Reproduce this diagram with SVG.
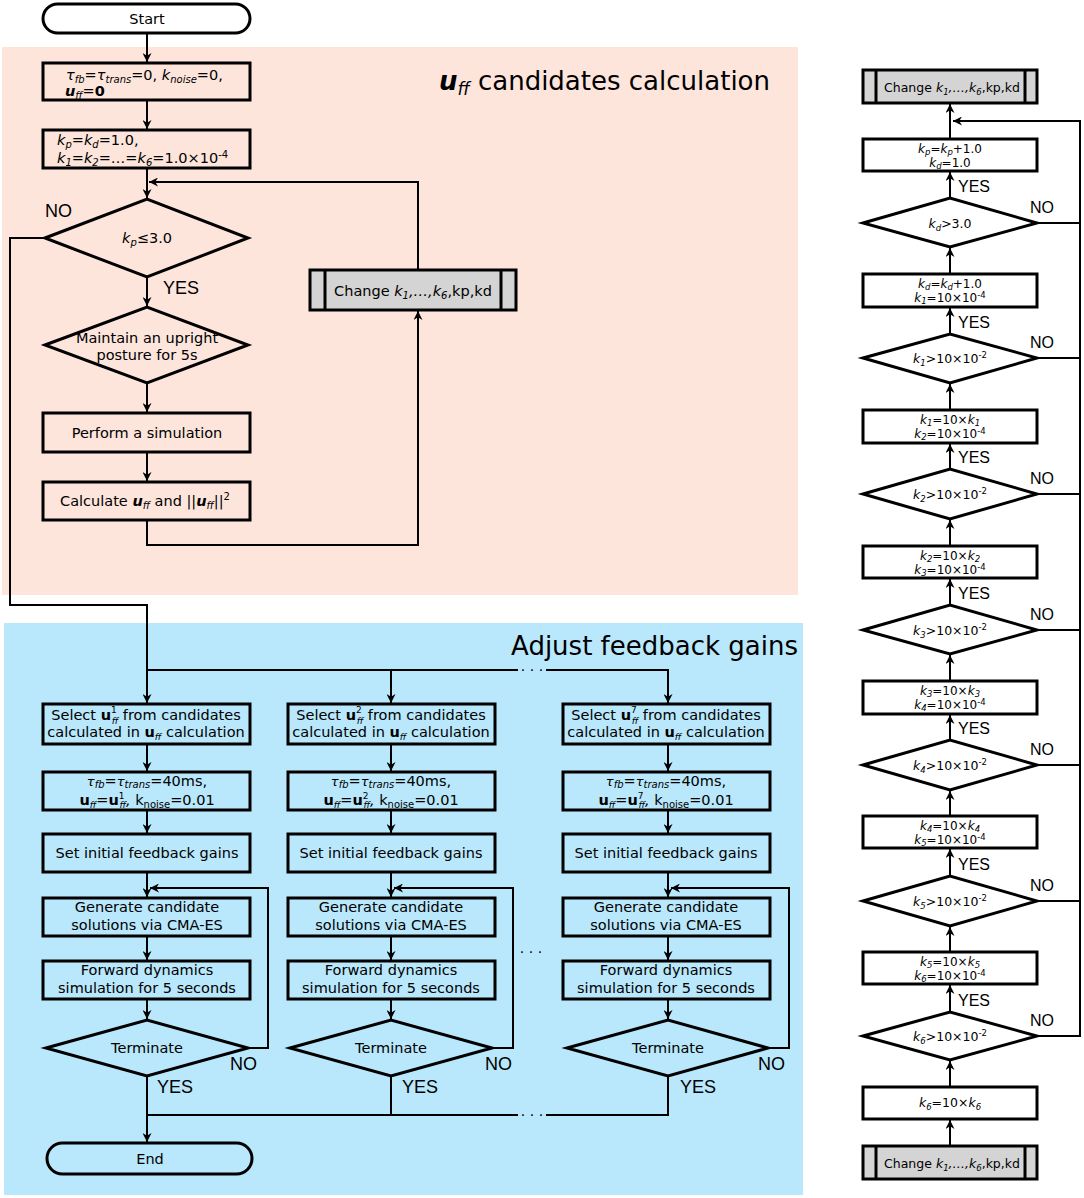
<svg xmlns="http://www.w3.org/2000/svg" width="1084" height="1198" viewBox="0 0 1084 1198">
<defs>
<marker id="ah" viewBox="0 0 10 10" refX="10" refY="5" markerWidth="9" markerHeight="9" markerUnits="userSpaceOnUse" orient="auto"><path d="M0,0 L10,5 L0,10 L3,5 z" fill="#000"/></marker>
<style>
.t{font-family:"DejaVu Sans",Verdana,sans-serif;font-size:14.5px;fill:#000}
.m{text-anchor:middle}
.i{font-style:italic}
.b{font-weight:bold}
.s{font-size:10px}
.ss{font-size:9px}
.r{font-family:"DejaVu Sans",Verdana,sans-serif;font-size:12px;text-anchor:middle;fill:#000}
.rc{font-family:"DejaVu Sans",Verdana,sans-serif;font-size:12.5px;text-anchor:middle;fill:#000}
.rs{font-size:8.5px}
.l{font-family:"Liberation Sans",Arial,sans-serif;font-size:18px;fill:#000}
.lr{font-family:"Liberation Sans",Arial,sans-serif;font-size:16px;fill:#000}
.ttl{font-family:"DejaVu Sans",Verdana,sans-serif;font-size:26px;fill:#000;text-anchor:end}
.box{fill:none;stroke:#000;stroke-width:3}
.gray{fill:#d4d4d4;stroke:#000;stroke-width:3}
.c{fill:none;stroke:#000;stroke-width:2}
.a{marker-end:url(#ah)}
.dots{font-family:"DejaVu Sans",sans-serif;font-size:14px;text-anchor:middle;fill:#000}
</style>
</defs>
<rect x="2" y="47" width="796" height="548" fill="#fde5dc"/>
<rect x="4" y="623" width="799" height="572" fill="#b9e7fb"/>
<text class="ttl" x="770" y="90"><tspan class="b i">u</tspan><tspan class="i" font-size="17" dy="5">ff</tspan><tspan dy="-5"> candidates calculation</tspan></text>
<text class="ttl" x="798" y="655" font-size="25">Adjust feedback gains</text>

<g id="connectors">
<path class="c a" d="M147,33 V62"/>
<path class="c a" d="M147,100 V129"/>
<path class="c a" d="M147,168 V198"/>
<path class="c a" d="M418,270 V182 H149"/>
<path class="c a" d="M147,277 V306"/>
<path class="c a" d="M147,383 V412"/>
<path class="c a" d="M147,452 V481"/>
<path class="c a" d="M147,520 V545 H418 V311"/>
<path class="c a" d="M45,238 H10 V605 H147 V703"/>
<path class="c" d="M147,670 H518"/>
<path class="c a" d="M546,670 H668 V703"/>
<path class="c a" d="M391,670 V703"/>
<text class="dots" x="532" y="675">· · ·</text>
<text class="dots" x="531" y="957">· · ·</text>
<text class="dots" x="532" y="1120">· · ·</text>
<path class="c a" d="M147,744 V771"/>
<path class="c a" d="M147,810 V833"/>
<path class="c a" d="M147,872 V897"/>
<path class="c a" d="M147,936 V960"/>
<path class="c a" d="M147,999 V1019"/>
<path class="c a" d="M248,1048 H268 V888 H150"/>
<path class="c a" d="M147,1076 V1142"/>
<path class="c" d="M147,1115 H518"/>
<path class="c a" d="M391,744 V771"/>
<path class="c a" d="M391,810 V833"/>
<path class="c a" d="M391,872 V897"/>
<path class="c a" d="M391,936 V960"/>
<path class="c a" d="M391,999 V1019"/>
<path class="c a" d="M492,1048 H513 V888 H394"/>
<path class="c" d="M391,1076 V1115"/>
<path class="c a" d="M668,744 V771"/>
<path class="c a" d="M668,810 V833"/>
<path class="c a" d="M668,872 V897"/>
<path class="c a" d="M668,936 V960"/>
<path class="c a" d="M668,999 V1019"/>
<path class="c a" d="M768,1048 H789 V888 H671"/>
<path class="c" d="M668,1076 V1115 H546"/>
<path class="c a" d="M950,1146 V1120"/>
<path class="c a" d="M950,1087 V1061"/>
<path class="c a" d="M950,1012 V985"/>
<path class="c a" d="M950,952 V927"/>
<path class="c a" d="M950,876 V849"/>
<path class="c a" d="M950,816 V791"/>
<path class="c a" d="M950,740 V715"/>
<path class="c a" d="M950,681 V655"/>
<path class="c a" d="M950,605 V579"/>
<path class="c a" d="M950,546 V520"/>
<path class="c a" d="M950,469 V444"/>
<path class="c a" d="M950,410 V384"/>
<path class="c a" d="M950,334 V308"/>
<path class="c a" d="M950,274 V248"/>
<path class="c a" d="M950,198 V172"/>
<path class="c a" d="M950,139 V104"/>
<path class="c" d="M1037,223 H1080"/>
<path class="c" d="M1037,358 H1080"/>
<path class="c" d="M1037,494 H1080"/>
<path class="c" d="M1037,630 H1080"/>
<path class="c" d="M1037,765 H1080"/>
<path class="c" d="M1037,901 H1080"/>
<path class="c a" d="M1037,1036 H1080 V121 H953"/>
</g>

<g id="labels">
<text class="l" x="45" y="217">NO</text>
<text class="l" x="163" y="294">YES</text>
<text class="l" x="230" y="1070">NO</text>
<text class="l" x="157" y="1093">YES</text>
<text class="l" x="485" y="1070">NO</text>
<text class="l" x="402" y="1093">YES</text>
<text class="l" x="758" y="1070">NO</text>
<text class="l" x="680" y="1093">YES</text>
<text class="lr" x="958" y="192">YES</text>
<text class="lr" x="958" y="328">YES</text>
<text class="lr" x="958" y="463">YES</text>
<text class="lr" x="958" y="599">YES</text>
<text class="lr" x="958" y="734">YES</text>
<text class="lr" x="958" y="870">YES</text>
<text class="lr" x="958" y="1006">YES</text>
<text class="lr" x="1030" y="213">NO</text>
<text class="lr" x="1030" y="348">NO</text>
<text class="lr" x="1030" y="484">NO</text>
<text class="lr" x="1030" y="620">NO</text>
<text class="lr" x="1030" y="755">NO</text>
<text class="lr" x="1030" y="891">NO</text>
<text class="lr" x="1030" y="1026">NO</text>
</g>

<g id="start"><rect class="box" x="43" y="4" width="207" height="29" rx="14.5"/><text class="t m" x="147" y="24">Start</text></g>
<g id="init1"><rect class="box" x="43" y="63" width="207" height="37"/>
<text class="t" x="66" y="80"><tspan class="i">τ</tspan><tspan class="i s" dy="3">fb</tspan><tspan dy="-3">=</tspan><tspan class="i">τ</tspan><tspan class="i s" dy="3">trans</tspan><tspan dy="-3">=0, </tspan><tspan class="i">k</tspan><tspan class="i s" dy="3">noise</tspan><tspan dy="-3">=0,</tspan><tspan x="65" y="96" class="b i">u</tspan><tspan class="i s" dy="3">ff</tspan><tspan dy="-3">=</tspan><tspan class="b">0</tspan></text></g>
<g id="init2"><rect class="box" x="43" y="130" width="207" height="38"/>
<text class="t" x="57" y="145"><tspan class="i">k</tspan><tspan class="i s" dy="3">p</tspan><tspan dy="-3">=</tspan><tspan class="i">k</tspan><tspan class="i s" dy="3">d</tspan><tspan dy="-3">=1.0,</tspan><tspan x="57" y="163" class="i">k</tspan><tspan class="i s" dy="3">1</tspan><tspan dy="-3">=</tspan><tspan class="i">k</tspan><tspan class="i s" dy="3">2</tspan><tspan dy="-3">=…=</tspan><tspan class="i">k</tspan><tspan class="i s" dy="3">6</tspan><tspan dy="-3">=1.0×10</tspan><tspan class="s" dy="-5">-4</tspan></text></g>
<g id="kpcheck"><polygon class="box" points="45,238 147,199 248,238 147,277"/>
<text class="t m" x="147" y="243" font-size="14"><tspan class="i">k</tspan><tspan class="i s" dy="3">p</tspan><tspan dy="-3">≤3.0</tspan></text></g>
<g id="maintain"><polygon class="box" points="45,345 147,307 248,345 147,383"/>
<text class="t m" x="147" y="343">Maintain an upright<tspan x="147" y="360">posture for 5s</tspan></text></g>
<g id="perform"><rect class="box" x="43" y="413" width="207" height="39"/><text class="t m" x="147" y="438">Perform a simulation</text></g>
<g id="calc"><rect class="box" x="43" y="482" width="207" height="38"/>
<text class="t m" x="145" y="506">Calculate <tspan class="b i">u</tspan><tspan class="i s" dy="3">ff</tspan><tspan dy="-3"> and ||</tspan><tspan class="b i">u</tspan><tspan class="i s" dy="3">ff</tspan><tspan dy="-3">||</tspan><tspan class="s" dy="-6">2</tspan></text></g>
<g id="change1"><rect class="gray" x="310" y="270" width="206" height="40"/><path class="box" d="M325,270 V310 M501,270 V310"/>
<text class="t m" x="413" y="296">Change <tspan class="i">k</tspan><tspan class="i s" dy="3">1</tspan><tspan dy="-3" class="i">,…,k</tspan><tspan class="i s" dy="3">6</tspan><tspan dy="-3">,kp,kd</tspan></text></g>

<g id="sel1"><rect class="box" x="43" y="704" width="207" height="40"/>
<text class="t m" x="146" y="720" font-size="14">Select <tspan class="b">u</tspan><tspan class="ss" dy="-7">1</tspan><tspan class="ss i" dx="-5" dy="11">ff</tspan><tspan dy="-4"> from candidates</tspan><tspan x="146" y="737">calculated in </tspan><tspan class="b">u</tspan><tspan class="ss i" dy="3">ff</tspan><tspan dy="-3"> calculation</tspan></text></g>
<g id="par1"><rect class="box" x="43" y="772" width="207" height="38"/>
<text class="t m" x="147" y="786"><tspan class="i" font-size="13">τ</tspan><tspan class="i s" dy="2">fb</tspan><tspan dy="-2">=</tspan><tspan class="i" font-size="13">τ</tspan><tspan class="i s" dy="2">trans</tspan><tspan dy="-2">=40ms,</tspan><tspan x="147" y="805" class="b">u</tspan><tspan class="ss i" dy="3">ff</tspan><tspan dy="-3">=</tspan><tspan class="b">u</tspan><tspan class="ss" dy="-6">1</tspan><tspan class="ss i" dx="-5" dy="9">ff</tspan><tspan dy="-3" class="i">,</tspan><tspan> k</tspan><tspan class="s" dy="3">noise</tspan><tspan dy="-3">=0.01</tspan></text></g>
<g id="set1"><rect class="box" x="43" y="834" width="207" height="38"/><text class="t m" x="147" y="858">Set initial feedback gains</text></g>
<g id="gen1"><rect class="box" x="43" y="898" width="207" height="38"/><text class="t m" x="147" y="912">Generate candidate<tspan x="147" y="930">solutions via CMA-ES</tspan></text></g>
<g id="fwd1"><rect class="box" x="43" y="961" width="207" height="38"/><text class="t m" x="147" y="975">Forward dynamics<tspan x="147" y="993">simulation for 5 seconds</tspan></text></g>
<g id="term1"><polygon class="box" points="46,1048 147,1020 248,1048 147,1076"/><text class="t m" x="147" y="1053">Terminate</text></g>
<g id="end"><rect class="box" x="47" y="1143" width="205" height="31" rx="15.5"/><text class="t m" x="150" y="1164">End</text></g>

<g id="sel2"><rect class="box" x="288" y="704" width="207" height="40"/>
<text class="t m" x="391" y="720" font-size="14.8">Select <tspan class="b">u</tspan><tspan class="ss" dy="-7">2</tspan><tspan class="ss i" dx="-5" dy="11">ff</tspan><tspan dy="-4"> from candidates</tspan><tspan x="391" y="737">calculated in </tspan><tspan class="b">u</tspan><tspan class="ss i" dy="3">ff</tspan><tspan dy="-3"> calculation</tspan></text></g>
<g id="par2"><rect class="box" x="288" y="772" width="207" height="38"/>
<text class="t m" x="391" y="786"><tspan class="i" font-size="13">τ</tspan><tspan class="i s" dy="2">fb</tspan><tspan dy="-2">=</tspan><tspan class="i" font-size="13">τ</tspan><tspan class="i s" dy="2">trans</tspan><tspan dy="-2">=40ms,</tspan><tspan x="391" y="805" class="b">u</tspan><tspan class="ss i" dy="3">ff</tspan><tspan dy="-3">=</tspan><tspan class="b">u</tspan><tspan class="ss" dy="-6">2</tspan><tspan class="ss i" dx="-5" dy="9">ff</tspan><tspan dy="-3" class="i">,</tspan><tspan> k</tspan><tspan class="s" dy="3">noise</tspan><tspan dy="-3">=0.01</tspan></text></g>
<g id="set2"><rect class="box" x="288" y="834" width="207" height="38"/><text class="t m" x="391" y="858">Set initial feedback gains</text></g>
<g id="gen2"><rect class="box" x="288" y="898" width="207" height="38"/><text class="t m" x="391" y="912">Generate candidate<tspan x="391" y="930">solutions via CMA-ES</tspan></text></g>
<g id="fwd2"><rect class="box" x="288" y="961" width="207" height="38"/><text class="t m" x="391" y="975">Forward dynamics<tspan x="391" y="993">simulation for 5 seconds</tspan></text></g>
<g id="term2"><polygon class="box" points="290,1048 391,1020 492,1048 391,1076"/><text class="t m" x="391" y="1053">Terminate</text></g>

<g id="sel3"><rect class="box" x="563" y="704" width="207" height="40"/>
<text class="t m" x="666" y="720" font-size="14.8">Select <tspan class="b">u</tspan><tspan class="ss" dy="-7">7</tspan><tspan class="ss i" dx="-5" dy="11">ff</tspan><tspan dy="-4"> from candidates</tspan><tspan x="666" y="737">calculated in </tspan><tspan class="b">u</tspan><tspan class="ss i" dy="3">ff</tspan><tspan dy="-3"> calculation</tspan></text></g>
<g id="par3"><rect class="box" x="563" y="772" width="207" height="38"/>
<text class="t m" x="666" y="786"><tspan class="i" font-size="13">τ</tspan><tspan class="i s" dy="2">fb</tspan><tspan dy="-2">=</tspan><tspan class="i" font-size="13">τ</tspan><tspan class="i s" dy="2">trans</tspan><tspan dy="-2">=40ms,</tspan><tspan x="666" y="805" class="b">u</tspan><tspan class="ss i" dy="3">ff</tspan><tspan dy="-3">=</tspan><tspan class="b">u</tspan><tspan class="ss" dy="-6">7</tspan><tspan class="ss i" dx="-5" dy="9">ff</tspan><tspan dy="-3" class="i">,</tspan><tspan> k</tspan><tspan class="s" dy="3">noise</tspan><tspan dy="-3">=0.01</tspan></text></g>
<g id="set3"><rect class="box" x="563" y="834" width="207" height="38"/><text class="t m" x="666" y="858">Set initial feedback gains</text></g>
<g id="gen3"><rect class="box" x="563" y="898" width="207" height="38"/><text class="t m" x="666" y="912">Generate candidate<tspan x="666" y="930">solutions via CMA-ES</tspan></text></g>
<g id="fwd3"><rect class="box" x="563" y="961" width="207" height="38"/><text class="t m" x="666" y="975">Forward dynamics<tspan x="666" y="993">simulation for 5 seconds</tspan></text></g>
<g id="term3"><polygon class="box" points="567,1048 668,1020 768,1048 668,1076"/><text class="t m" x="668" y="1053">Terminate</text></g>

<g id="changeTop"><rect class="gray" x="863" y="70" width="174" height="33"/><path class="box" d="M876,70 V103 M1025,70 V103"/>
<text class="rc" x="952" y="92">Change <tspan class="i">k</tspan><tspan class="i rs" dy="3">1</tspan><tspan dy="-3" class="i">,…,k</tspan><tspan class="i rs" dy="3">6</tspan><tspan dy="-3">,kp,kd</tspan></text></g>
<g id="kpInc"><rect class="box" x="863" y="139" width="174" height="32"/>
<text class="r" x="950" y="153"><tspan class="i">k</tspan><tspan class="i rs" dy="2">p</tspan><tspan dy="-2">=</tspan><tspan class="i">k</tspan><tspan class="i rs" dy="2">p</tspan><tspan dy="-2">+1.0</tspan><tspan x="950" y="167" class="i">k</tspan><tspan class="i rs" dy="2">d</tspan><tspan dy="-2">=1.0</tspan></text></g>
<g id="kdCheck"><polygon class="box" points="863,223 950,198 1037,223 950,247"/>
<text class="rc" x="950" y="228"><tspan class="i">k</tspan><tspan class="i rs" dy="3">d</tspan><tspan dy="-3">&gt;3.0</tspan></text></g>
<g id="kdInc"><rect class="box" x="863" y="274" width="174" height="33"/>
<text class="r" x="950" y="288"><tspan class="i">k</tspan><tspan class="i rs" dy="2">d</tspan><tspan dy="-2">=</tspan><tspan class="i">k</tspan><tspan class="i rs" dy="2">d</tspan><tspan dy="-2">+1.0</tspan><tspan x="950" y="302" class="i">k</tspan><tspan class="i rs" dy="2">1</tspan><tspan dy="-2">=10×10</tspan><tspan class="rs" dy="-4">-4</tspan></text></g>
<g id="k1Check"><polygon class="box" points="863,358 950,334 1037,358 950,383"/>
<text class="rc" x="950" y="363"><tspan class="i">k</tspan><tspan class="i rs" dy="3">1</tspan><tspan dy="-3">&gt;10×10</tspan><tspan class="rs" dy="-5">-2</tspan></text></g>
<g id="k1Inc"><rect class="box" x="863" y="410" width="174" height="33"/>
<text class="r" x="950" y="424"><tspan class="i">k</tspan><tspan class="i rs" dy="2">1</tspan><tspan dy="-2">=10×</tspan><tspan class="i">k</tspan><tspan class="i rs" dy="2">1</tspan><tspan x="950" y="438" class="i">k</tspan><tspan class="i rs" dy="2">2</tspan><tspan dy="-2">=10×10</tspan><tspan class="rs" dy="-4">-4</tspan></text></g>
<g id="k2Check"><polygon class="box" points="863,494 950,469 1037,494 950,519"/>
<text class="rc" x="950" y="499"><tspan class="i">k</tspan><tspan class="i rs" dy="3">2</tspan><tspan dy="-3">&gt;10×10</tspan><tspan class="rs" dy="-5">-2</tspan></text></g>
<g id="k2Inc"><rect class="box" x="863" y="546" width="174" height="32"/>
<text class="r" x="950" y="560"><tspan class="i">k</tspan><tspan class="i rs" dy="2">2</tspan><tspan dy="-2">=10×</tspan><tspan class="i">k</tspan><tspan class="i rs" dy="2">2</tspan><tspan x="950" y="574" class="i">k</tspan><tspan class="i rs" dy="2">3</tspan><tspan dy="-2">=10×10</tspan><tspan class="rs" dy="-4">-4</tspan></text></g>
<g id="k3Check"><polygon class="box" points="863,630 950,605 1037,630 950,654"/>
<text class="rc" x="950" y="635"><tspan class="i">k</tspan><tspan class="i rs" dy="3">3</tspan><tspan dy="-3">&gt;10×10</tspan><tspan class="rs" dy="-5">-2</tspan></text></g>
<g id="k3Inc"><rect class="box" x="863" y="681" width="174" height="33"/>
<text class="r" x="950" y="695"><tspan class="i">k</tspan><tspan class="i rs" dy="2">3</tspan><tspan dy="-2">=10×</tspan><tspan class="i">k</tspan><tspan class="i rs" dy="2">3</tspan><tspan x="950" y="709" class="i">k</tspan><tspan class="i rs" dy="2">4</tspan><tspan dy="-2">=10×10</tspan><tspan class="rs" dy="-4">-4</tspan></text></g>
<g id="k4Check"><polygon class="box" points="863,765 950,740 1037,765 950,790"/>
<text class="rc" x="950" y="770"><tspan class="i">k</tspan><tspan class="i rs" dy="3">4</tspan><tspan dy="-3">&gt;10×10</tspan><tspan class="rs" dy="-5">-2</tspan></text></g>
<g id="k4Inc"><rect class="box" x="863" y="816" width="174" height="32"/>
<text class="r" x="950" y="830"><tspan class="i">k</tspan><tspan class="i rs" dy="2">4</tspan><tspan dy="-2">=10×</tspan><tspan class="i">k</tspan><tspan class="i rs" dy="2">4</tspan><tspan x="950" y="844" class="i">k</tspan><tspan class="i rs" dy="2">5</tspan><tspan dy="-2">=10×10</tspan><tspan class="rs" dy="-4">-4</tspan></text></g>
<g id="k5Check"><polygon class="box" points="863,901 950,876 1037,901 950,926"/>
<text class="rc" x="950" y="906"><tspan class="i">k</tspan><tspan class="i rs" dy="3">5</tspan><tspan dy="-3">&gt;10×10</tspan><tspan class="rs" dy="-5">-2</tspan></text></g>
<g id="k5Inc"><rect class="box" x="863" y="952" width="174" height="32"/>
<text class="r" x="950" y="966"><tspan class="i">k</tspan><tspan class="i rs" dy="2">5</tspan><tspan dy="-2">=10×</tspan><tspan class="i">k</tspan><tspan class="i rs" dy="2">5</tspan><tspan x="950" y="980" class="i">k</tspan><tspan class="i rs" dy="2">6</tspan><tspan dy="-2">=10×10</tspan><tspan class="rs" dy="-4">-4</tspan></text></g>
<g id="k6Check"><polygon class="box" points="863,1036 950,1012 1037,1036 950,1060"/>
<text class="rc" x="950" y="1041"><tspan class="i">k</tspan><tspan class="i rs" dy="3">6</tspan><tspan dy="-3">&gt;10×10</tspan><tspan class="rs" dy="-5">-2</tspan></text></g>
<g id="k6Inc"><rect class="box" x="863" y="1087" width="174" height="32"/>
<text class="rc" x="950" y="1107"><tspan class="i">k</tspan><tspan class="i rs" dy="3">6</tspan><tspan dy="-3">=10×</tspan><tspan class="i">k</tspan><tspan class="i rs" dy="3">6</tspan></text></g>
<g id="changeBottom"><rect class="gray" x="863" y="1146" width="174" height="33"/><path class="box" d="M876,1146 V1179 M1025,1146 V1179"/>
<text class="rc" x="952" y="1168">Change <tspan class="i">k</tspan><tspan class="i rs" dy="3">1</tspan><tspan dy="-3" class="i">,…,k</tspan><tspan class="i rs" dy="3">6</tspan><tspan dy="-3">,kp,kd</tspan></text></g>
</svg>
